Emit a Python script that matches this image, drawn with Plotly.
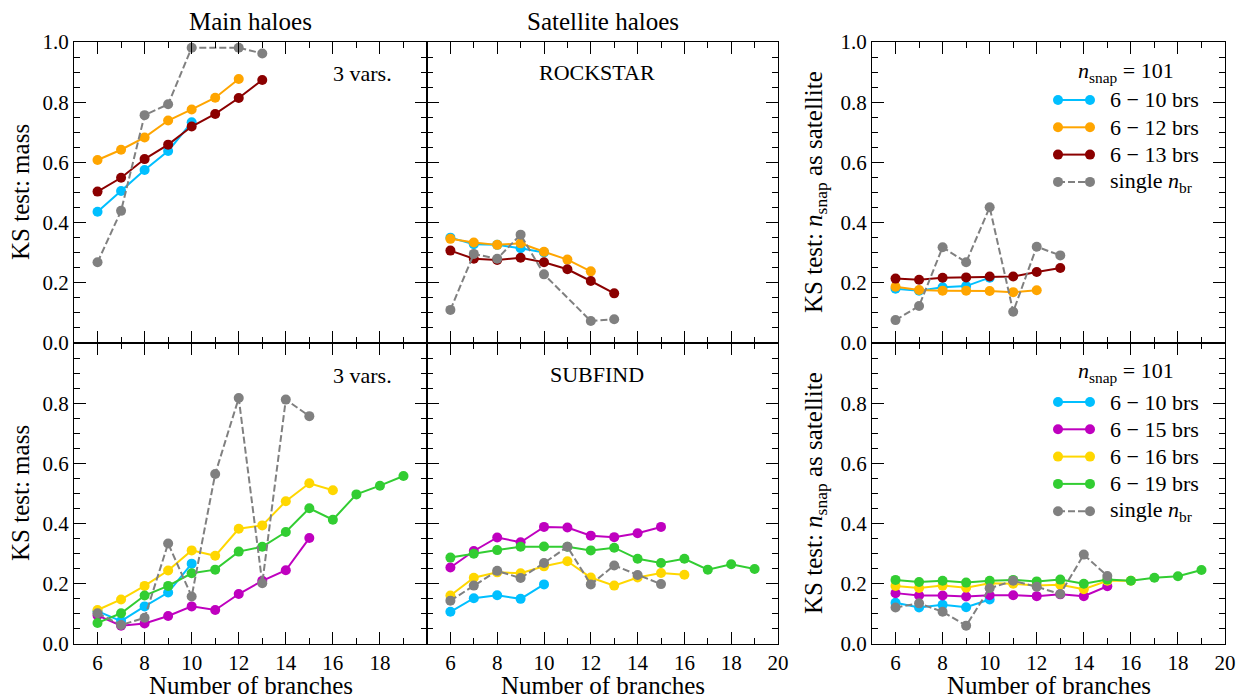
import plotly.graph_objects as go

W, H = 1237, 698
FONT = "Liberation Serif"

# ---------------- data ----------------
# number of branches
x_6_10 = [6, 7, 8, 9, 10]
x_6_12 = [6, 7, 8, 9, 10, 11, 12]
x_6_13 = [6, 7, 8, 9, 10, 11, 12, 13]
x_6_15 = [6, 7, 8, 9, 10, 11, 12, 13, 14, 15]
x_6_16 = [6, 7, 8, 9, 10, 11, 12, 13, 14, 15, 16]
x_6_19 = [6, 7, 8, 9, 10, 11, 12, 13, 14, 15, 16, 17, 18, 19]
x_single_rs = [6, 7, 8, 9, 10, 11, 12, 13]
x_single_sf = [6, 7, 8, 9, 10, 11, 12, 13, 14, 15]

# ROCKSTAR, main haloes (KS test: mass)
main_rs_6_10 = [0.436, 0.505, 0.575, 0.638, 0.733]
main_rs_6_12 = [0.608, 0.642, 0.683, 0.739, 0.776, 0.815, 0.877]
main_rs_6_13 = [0.503, 0.549, 0.611, 0.659, 0.719, 0.761, 0.814, 0.874]
main_rs_single = [0.268, 0.439, 0.757, 0.793, 0.981, None, 0.981, 0.962]

# ROCKSTAR, satellite haloes (KS test: mass)
sat_rs_6_10 = [0.350, 0.328, 0.326, 0.315, 0.301]
sat_rs_6_12 = [0.346, 0.334, 0.326, 0.331, 0.303, 0.277, 0.238]
sat_rs_6_13 = [0.307, 0.280, 0.276, 0.283, 0.268, 0.245, 0.206, 0.165]
sat_rs_single = [0.110, 0.296, 0.280, 0.360, 0.228, None, 0.073, 0.079]

# ROCKSTAR, KS test: n_snap as satellite
nsnap_rs_6_10 = [0.180, 0.174, 0.185, 0.189, 0.217]
nsnap_rs_6_12 = [0.187, 0.176, 0.174, 0.174, 0.173, 0.169, 0.175]
nsnap_rs_6_13 = [0.214, 0.210, 0.217, 0.218, 0.221, 0.221, 0.236, 0.249]
nsnap_rs_single = [0.076, 0.123, 0.318, 0.268, 0.451, 0.104, 0.320, 0.291]

# SUBFIND, main haloes (KS test: mass)
main_sf_6_10 = [0.109, 0.076, 0.125, 0.171, 0.267]
main_sf_6_15 = [0.095, 0.061, 0.068, 0.093, 0.125, 0.113, 0.166, 0.210, 0.245, 0.352]
main_sf_6_16 = [0.113, 0.148, 0.193, 0.244, 0.311, 0.293, 0.383, 0.394, 0.474, 0.534, 0.511]
main_sf_6_19 = [0.070, 0.102, 0.161, 0.193, 0.235, 0.247, 0.307, 0.323, 0.372, 0.451,
                0.413, 0.497, 0.526, 0.558]
main_sf_single = [0.102, 0.063, 0.087, 0.334, 0.158, 0.565, 0.817, 0.202, 0.812, 0.757]

# SUBFIND, satellite haloes (KS test: mass)
sat_sf_6_10 = [0.107, 0.152, 0.162, 0.150, 0.198]
sat_sf_6_15 = [0.254, 0.309, 0.354, 0.338, 0.389, 0.387, 0.360, 0.355, 0.368, 0.389]
sat_sf_6_16 = [0.161, 0.220, 0.238, 0.235, 0.258, 0.275, 0.221, 0.194, 0.221, 0.236, 0.230]
sat_sf_6_19 = [0.287, 0.300, 0.312, 0.323, 0.324, 0.323, 0.311, 0.320, 0.283, 0.269,
               0.283, 0.247, 0.265, 0.249]
sat_sf_single = [0.144, 0.194, 0.243, 0.219, 0.269, 0.323, 0.198, 0.261, 0.229, 0.199]

# SUBFIND, KS test: n_snap as satellite
nsnap_sf_6_10 = [0.137, 0.121, 0.130, 0.122, 0.148]
nsnap_sf_6_15 = [0.169, 0.161, 0.161, 0.158, 0.162, 0.162, 0.159, 0.165, 0.159, 0.192]
nsnap_sf_6_16 = [0.193, 0.186, 0.194, 0.187, 0.202, 0.200, 0.194, 0.197, 0.182, 0.210, 0.210]
nsnap_sf_6_19 = [0.213, 0.206, 0.210, 0.204, 0.210, 0.213, 0.208, 0.214, 0.200, 0.214,
                 0.210, 0.220, 0.225, 0.246]
nsnap_sf_single = [0.121, 0.135, 0.107, 0.061, 0.185, 0.210, 0.190, 0.166, 0.297, 0.226]

labels_rs = ["6 \u2212 10 brs", "6 \u2212 12 brs", "6 \u2212 13 brs", "single <i>n</i><sub>br</sub>"]
labels_sf = ["6 \u2212 10 brs", "6 \u2212 15 brs", "6 \u2212 16 brs", "6 \u2212 19 brs",
             "single <i>n</i><sub>br</sub>"]

C_CYAN = "#00BFFF"
C_ORANGE = "#FFA500"
C_DRED = "#8B0000"
C_MAG = "#BF00BF"
C_GOLD = "#FFD700"
C_GREEN = "#32CD32"
C_GRAY = "#808080"

colors_rs = [C_CYAN, C_ORANGE, C_DRED, C_GRAY]
colors_sf = [C_CYAN, C_MAG, C_GOLD, C_GREEN, C_GRAY]

# ---------------- helpers ----------------
def px(x):
    return x / W

def py(y):
    return 1 - y / H

LW = 2
MS = 10
DASH = "7px,3px"

fig = go.Figure()

def add_series(xs, ys, color, ax, dashed=False):
    fig.add_trace(go.Scatter(
        x=xs, y=ys, mode="lines+markers",
        line=dict(color=color, width=LW, dash=DASH if dashed else "solid"),
        marker=dict(color=color, size=MS, line=dict(width=0)),
        connectgaps=True, showlegend=False, hoverinfo="skip",
        xaxis="x" + ax, yaxis="y" + ax))

# panel 1: main, rockstar
add_series(x_6_10, main_rs_6_10, C_CYAN, "1")
add_series(x_6_12, main_rs_6_12, C_ORANGE, "1")
add_series(x_6_13, main_rs_6_13, C_DRED, "1")
add_series(x_single_rs, main_rs_single, C_GRAY, "1", dashed=True)
# panel 2: satellite, rockstar
add_series(x_6_10, sat_rs_6_10, C_CYAN, "2")
add_series(x_6_12, sat_rs_6_12, C_ORANGE, "2")
add_series(x_6_13, sat_rs_6_13, C_DRED, "2")
add_series(x_single_rs, sat_rs_single, C_GRAY, "2", dashed=True)
# panel 3: nsnap, rockstar
add_series(x_6_10, nsnap_rs_6_10, C_CYAN, "3")
add_series(x_6_12, nsnap_rs_6_12, C_ORANGE, "3")
add_series(x_6_13, nsnap_rs_6_13, C_DRED, "3")
add_series(x_single_rs, nsnap_rs_single, C_GRAY, "3", dashed=True)
# panel 4: main, subfind
add_series(x_6_10, main_sf_6_10, C_CYAN, "4")
add_series(x_6_15, main_sf_6_15, C_MAG, "4")
add_series(x_6_16, main_sf_6_16, C_GOLD, "4")
add_series(x_6_19, main_sf_6_19, C_GREEN, "4")
add_series(x_single_sf, main_sf_single, C_GRAY, "4", dashed=True)
# panel 5: satellite, subfind
add_series(x_6_10, sat_sf_6_10, C_CYAN, "5")
add_series(x_6_15, sat_sf_6_15, C_MAG, "5")
add_series(x_6_16, sat_sf_6_16, C_GOLD, "5")
add_series(x_6_19, sat_sf_6_19, C_GREEN, "5")
add_series(x_single_sf, sat_sf_single, C_GRAY, "5", dashed=True)
# panel 6: nsnap, subfind
add_series(x_6_10, nsnap_sf_6_10, C_CYAN, "6")
add_series(x_6_15, nsnap_sf_6_15, C_MAG, "6")
add_series(x_6_16, nsnap_sf_6_16, C_GOLD, "6")
add_series(x_6_19, nsnap_sf_6_19, C_GREEN, "6")
add_series(x_single_sf, nsnap_sf_single, C_GRAY, "6", dashed=True)

# ---------------- axes ----------------
XD = [(74, 427), (427, 778), (872, 1225)]
YD = [(42, 343), (343, 644)]
TICKFONT = dict(family=FONT, size=21, color="black")

def xaxis(col, row, labels):
    x0, x1 = XD[col]
    vals = [6, 8, 10, 12, 14, 16, 18, 20] if labels != "left" else [6, 8, 10, 12, 14, 16, 18]
    return dict(
        domain=[px(x0), px(x1)], anchor="y%d" % (row * 3 + col + 1), automargin=False,
        range=[5, 20], tickvals=vals, ticktext=[str(v) for v in vals],
        showticklabels=(row == 1), tickfont=TICKFONT,
        ticks="inside", ticklen=12, tickwidth=1.3, tickcolor="black",
        minor=dict(ticks="inside", ticklen=6, tickwidth=1.3, tickcolor="black",
                   dtick=1, tick0=5),
        showline=True, linecolor="black", linewidth=1.3, mirror="allticks",
        showgrid=False, zeroline=False, fixedrange=True)

def yaxis(col, row):
    y0, y1 = YD[row]
    vals = [0, 0.2, 0.4, 0.6, 0.8, 1.0] if row == 0 else [0, 0.2, 0.4, 0.6, 0.8]
    return dict(
        domain=[py(y1), py(y0)], anchor="x%d" % (row * 3 + col + 1), automargin=False,
        range=[0, 1], tickvals=vals, ticktext=["%.1f" % v for v in vals],
        showticklabels=(col != 1), tickfont=TICKFONT,
        ticks="inside", ticklen=12, tickwidth=1.3, tickcolor="black",
        minor=dict(ticks="inside", ticklen=6, tickwidth=1.3, tickcolor="black",
                   dtick=0.05, tick0=0),
        showline=True, linecolor="black", linewidth=1.3, mirror="allticks",
        showgrid=False, zeroline=False, fixedrange=True)

layout = dict(
    width=W, height=H, margin=dict(l=0, r=0, t=0, b=0, autoexpand=False),
    paper_bgcolor="white", plot_bgcolor="white",
    font=dict(family=FONT, color="black"), showlegend=False)
for row in range(2):
    for col in range(3):
        n = row * 3 + col + 1
        key = "" if n == 1 else str(n)
        layout["xaxis" + key] = xaxis(col, row, "left" if col == 0 else "other")
        layout["yaxis" + key] = yaxis(col, row)
fig.update_layout(**layout)

# ---------------- text ----------------
ann = []
def text(x, y, s, size=22, angle=0, xanchor="center"):
    ann.append(dict(x=px(x), y=py(y), xref="paper", yref="paper", text=s,
                    showarrow=False, xanchor=xanchor, yanchor="middle",
                    textangle=angle, font=dict(family=FONT, size=size, color="black")))

text(250.5, 21, "Main haloes", size=25)
text(602.5, 21, "Satellite haloes", size=25)
for xc in [250.5, 602.5, 1048.5]:
    text(xc, 685, "Number of branches", size=25)
text(20, 192, "KS test: mass", size=25, angle=-90)
text(20, 493, "KS test: mass", size=25, angle=-90)
text(815, 192, "KS test: <i>n</i><sub>snap</sub> as satellite", size=25, angle=-90)
text(815, 493, "KS test: <i>n</i><sub>snap</sub> as satellite", size=25, angle=-90)
text(362, 73, "3 vars.", size=22)
text(362, 375, "3 vars.", size=22)
text(597, 72, "ROCKSTAR", size=22)
text(597, 374, "SUBFIND", size=22)

# ---------------- legends ----------------
shapes = []
def legend(title_y, first_y, labels, colors):
    text(1126, title_y, "<i>n</i><sub>snap</sub> = 101", size=22)
    for i, (lab, col) in enumerate(zip(labels, colors)):
        yy = first_y + i * 27.3
        dashed = (col == C_GRAY)
        shapes.append(dict(type="line", xref="paper", yref="paper",
                           x0=px(1058), x1=px(1090), y0=py(yy), y1=py(yy),
                           line=dict(color=col, width=LW, dash=DASH if dashed else "solid")))
        for xc in (1058, 1090):
            shapes.append(dict(type="circle", xref="paper", yref="paper",
                               x0=px(xc - MS / 2), x1=px(xc + MS / 2),
                               y0=py(yy + MS / 2), y1=py(yy - MS / 2),
                               fillcolor=col, line=dict(width=0)))
        text(1108, yy, lab, size=22, xanchor="left")

legend(72, 100, labels_rs, colors_rs)
legend(372, 402, labels_sf, colors_sf)

fig.update_layout(annotations=ann, shapes=shapes)
fig.write_html("out.html", config={"displayModeBar": False},
               post_script="document.body.style.margin='0';")
